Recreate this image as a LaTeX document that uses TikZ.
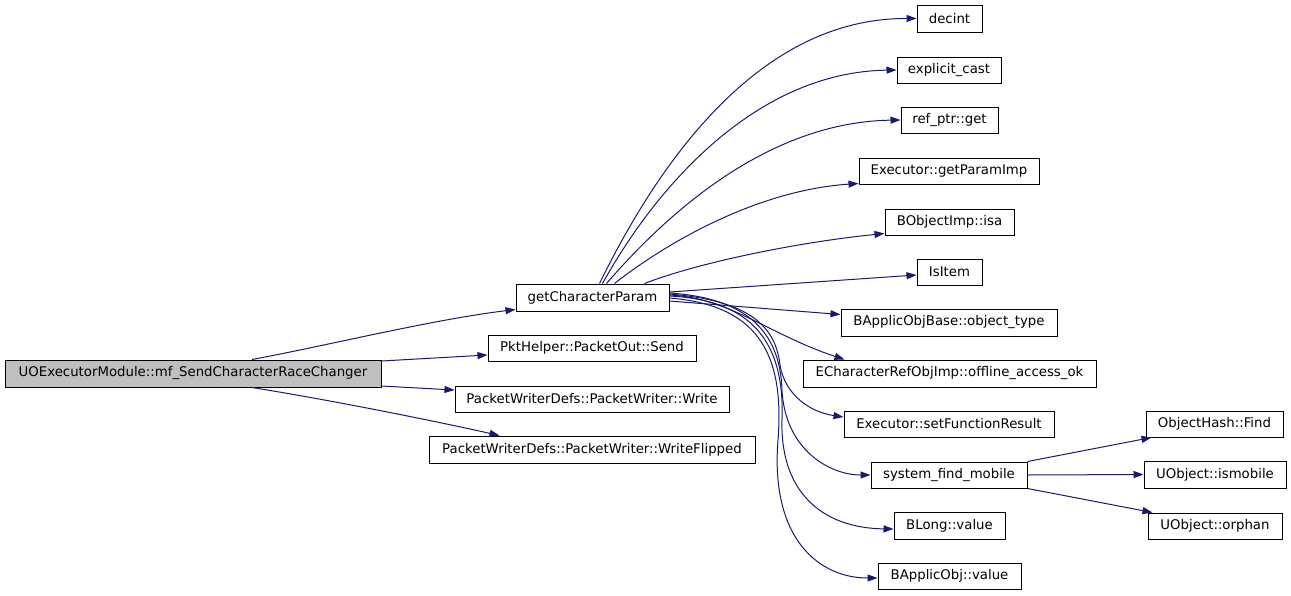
\documentclass[tikz,border=0pt]{standalone}
\usepackage{fontspec}
\setmainfont{DejaVu Sans}
\usetikzlibrary{arrows.meta,calc}
\definecolor{edgecol}{HTML}{191970}
\definecolor{mainfill}{HTML}{BFBFBF}
\begin{document}
\begin{tikzpicture}[x=1pt,y=-1pt,
  box/.style={draw=black,line width=1pt,fill=white,rectangle,inner sep=0pt,minimum height=26pt,font=\fontsize{13.3}{16}\selectfont},
  callarrow/.style={draw=edgecol,line width=1pt,-{Triangle[length=10pt,width=7pt]}}]
\useasboundingbox[fill=white] (0,0) rectangle (1291,595);

% nodes
\node[box,fill=mainfill,minimum width=376pt,minimum height=27pt] (main) at (193,373.5) {UOExecutorModule::mf\_SendCharacterRaceChanger};
\node[box,minimum width=153pt,minimum height=27pt] (gcp) at (592.5,297.5) {getCharacterParam};
\node[box,minimum width=208pt] (send) at (592,348) {PktHelper::PacketOut::Send};
\node[box,minimum width=274pt] (write) at (592,399) {PacketWriterDefs::PacketWriter::Write};
\node[box,minimum width=326pt,minimum height=27pt] (wflip) at (592,449.5) {PacketWriterDefs::PacketWriter::WriteFlipped};

\node[box,minimum width=65pt,minimum height=27pt] (decint) at (949.5,18.5) {decint};
\node[box,minimum width=104pt] (ecast) at (949,70) {explicit\_cast};
\node[box,minimum width=97pt] (refptr) at (949.5,120) {ref\_ptr::get};
\node[box,minimum width=180pt] (getpi) at (949,171) {Executor::getParamImp};
\node[box,minimum width=129pt] (isa) at (949.5,222) {BObjectImp::isa};
\node[box,minimum width=65pt] (isitem) at (949.5,272) {IsItem};
\node[box,minimum width=216pt,minimum height=27pt] (objtype) at (949,322.5) {BApplicObjBase::object\_type};
\node[box,minimum width=293pt,minimum height=27pt] (offline) at (949.5,373.5) {ECharacterRefObjImp::offline\_access\_ok};
\node[box,minimum width=210pt] (setfr) at (949,424) {Executor::setFunctionResult};
\node[box,minimum width=156pt] (sfm) at (949,475) {system\_find\_mobile};
\node[box,minimum width=111pt,minimum height=27pt] (blong) at (949.5,525.5) {BLong::value};
\node[box,minimum width=143pt] (bapp) at (949.5,576) {BApplicObj::value};

\node[box,minimum width=137pt] (ohfind) at (1214.5,424) {ObjectHash::Find};
\node[box,minimum width=142pt,minimum height=27pt] (ismob) at (1215,474.5) {UObject::ismobile};
\node[box,minimum width=134pt] (orphan) at (1215,526) {UObject::orphan};

% edges from main
\draw[callarrow] ($(main.north)+(59,0)$) .. controls (330,345) and (430,320) .. ($(gcp.south west)+(0,-2)$);
\draw[callarrow] ($(main.north east)+(0,1.5)$) -- ($(send.west)+(0,7)$);
\draw[callarrow] ($(main.south east)+(0,-1.5)$) -- ($(write.west)+(0,-9)$);
\draw[callarrow] ($(main.south)+(59,0)$) .. controls (330,400) and (430,420) .. ($(wflip.north west)+(71,0)$);

% edges from getCharacterParam, upper
\draw[callarrow] ($(gcp.north west)+(84,0)$) .. controls (660,160) and (760,18) .. (decint.west);
\draw[callarrow] ($(gcp.north west)+(87,0)$) .. controls (660,180) and (760,72) .. (ecast.west);
\draw[callarrow] ($(gcp.north west)+(91,0)$) .. controls (670,210) and (770,122) .. (refptr.west);
\draw[callarrow] ($(gcp.north west)+(99,0)$) .. controls (670,240) and (760,190) .. ($(getpi.south west)+(0,-1)$);
\draw[callarrow] ($(gcp.north west)+(129,0)$) .. controls (700,262) and (800,242) .. ($(isa.south west)+(0,-2)$);
\draw[callarrow] ($(gcp.east)+(0,-5.5)$) -- ($(isitem.west)+(0,3)$);

% edges from getCharacterParam, lower
\draw[callarrow] ($(gcp.east)+(0,3.5)$) -- ($(objtype.north west)+(0,6)$);
\draw[callarrow] ($(gcp.east)+(0,-2.5)$) .. controls (730,298) and (770,335) .. ($(offline.north west)+(42,0)$);
\draw[callarrow] ($(gcp.east)+(0,-3.5)$) .. controls (740,300) and (775,320) .. (780,365)
  .. controls (785,395) and (810,412) .. ($(setfr.west)+(0,-7)$);
\draw[callarrow] ($(gcp.east)+(0,-4.5)$) .. controls (745,298) and (780,330) .. (782,390)
  .. controls (785,450) and (830,475) .. (sfm.west);
\draw[callarrow] ($(gcp.east)+(0,-1.5)$) .. controls (750,300) and (785,340) .. (782,420)
  .. controls (780,490) and (820,528) .. ($(blong.west)+(0,3.5)$);
\draw[callarrow] ($(gcp.east)+(0,0.5)$) .. controls (755,305) and (785,350) .. (778,440)
  .. controls (770,540) and (820,578) .. ($(bapp.west)+(0,2)$);

% edges from system_find_mobile
\draw[callarrow] (sfm.north east) -- ($(ohfind.south west)+(6,0)$);
\draw[callarrow] (sfm.east) -- (ismob.west);
\draw[callarrow] (sfm.south east) -- ($(orphan.north west)+(5,0)$);
\end{tikzpicture}
\end{document}
